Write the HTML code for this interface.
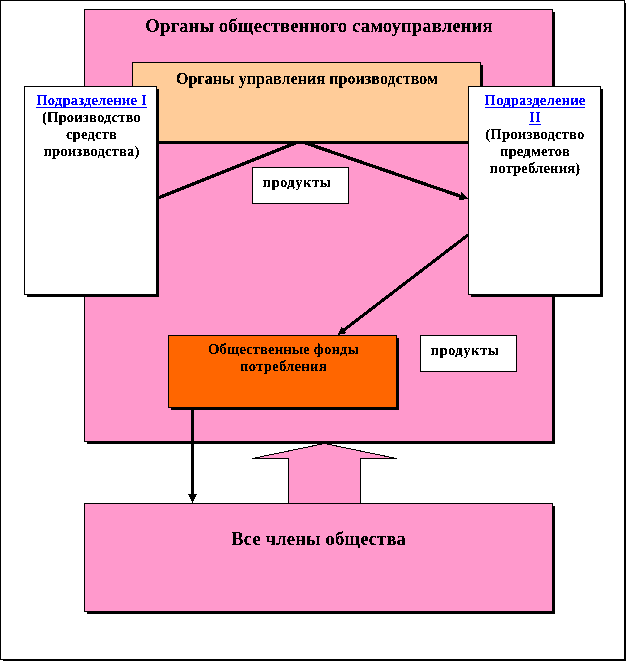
<!DOCTYPE html>
<html lang="ru">
<head>
<meta charset="utf-8">
<title>Схема</title>
<style>
html,body{margin:0;padding:0;background:#fff;}
body{width:626px;height:661px;position:relative;overflow:hidden;font-family:"Liberation Serif","Times New Roman",serif;font-weight:bold;color:#000;}
.b{position:absolute;box-sizing:border-box;border:1px solid #000;}
.s{position:absolute;background:#000;}
.t{position:absolute;white-space:nowrap;text-align:center;filter:url(#bin);}
.pink{background:#ff99cc;}
.peach{background:#ffcc99;}
.orange{background:#ff6600;}
.white{background:#fff;}
a{color:#0000ff;text-decoration:underline;text-decoration-thickness:1px;text-underline-offset:2px;text-decoration-skip-ink:none;letter-spacing:0.15px;}
svg{position:absolute;left:0;top:0;}
</style>
</head>
<body>
<svg width="0" height="0" style="position:absolute" aria-hidden="true">
  <defs>
    <filter id="bin" x="0" y="0" width="100%" height="100%" color-interpolation-filters="sRGB">
      <feComponentTransfer><feFuncA type="discrete" tableValues="0 0 0 0 0 0 0 0 0 1 1 1 1 1 1 1 1 1 1 1"/></feComponentTransfer>
    </filter>
  </defs>
</svg>
<!-- outer frame -->
<div class="s" style="left:3px;top:3px;width:623px;height:658px;"></div>
<div class="b white" style="left:0;top:0;width:625px;height:660px;"></div>

<!-- block arrow -->
<svg width="626" height="661" viewBox="0 0 626 661">
  <polygon points="324.5,443.5 396.5,458.5 360.5,458.5 360.5,503.5 288.5,503.5 288.5,458.5 252.5,458.5" fill="#ff99cc" stroke="#000" stroke-width="1" shape-rendering="crispEdges"/>
</svg>

<!-- main pink -->
<div class="s" style="left:87px;top:12px;width:468px;height:432px;"></div>
<div class="b pink" style="left:84px;top:9px;width:469px;height:433px;"></div>

<!-- bottom pink -->
<div class="s" style="left:87px;top:506px;width:468px;height:108px;"></div>
<div class="b pink" style="left:84px;top:503px;width:469px;height:109px;z-index:2"></div>

<!-- lines -->
<svg width="626" height="661" viewBox="0 0 626 661" style="z-index:2">
  <g stroke="#000" fill="none" shape-rendering="crispEdges">
    <line x1="300.7" y1="141" x2="156" y2="198.8" stroke-width="3.3"/>
    <line x1="299.7" y1="141.0" x2="461.2" y2="196.5" stroke-width="3.3"/>
    <line x1="468.0" y1="235.0" x2="343.4" y2="330.4" stroke-width="3.1"/>
    <line x1="192.5" y1="407.0" x2="192.5" y2="495.0" stroke-width="3"/>
  </g>
  <g fill="#000" stroke="none" shape-rendering="crispEdges">
    <polygon points="468.3,198.9 458.9,200.1 461.6,192.2"/>
    <polygon points="337.4,335.0 341.6,326.5 346.7,333.2"/>
    <polygon points="192.5,503.5 188.0,494.0 197.0,494.0"/>
  </g>
</svg>

<!-- peach -->
<div class="s" style="left:135px;top:65px;width:348px;height:79px;z-index:3"></div>
<div class="b peach" style="left:132px;top:62px;width:349px;height:80px;z-index:3"></div>


<!-- white side boxes -->
<div class="s" style="left:27px;top:89px;width:132px;height:208px;z-index:5"></div>
<div class="b white" style="left:24px;top:86px;width:133px;height:209px;z-index:5"></div>
<div class="s" style="left:471px;top:89px;width:132px;height:208px;z-index:5"></div>
<div class="b white" style="left:468px;top:86px;width:133px;height:209px;z-index:5"></div>

<!-- orange -->
<div class="s" style="left:171px;top:338px;width:228px;height:72px;z-index:5"></div>
<div class="b orange" style="left:168px;top:335px;width:229px;height:73px;z-index:5"></div>

<!-- product boxes -->
<div class="b white" style="left:252px;top:167px;width:97px;height:37px;z-index:5"></div>
<div class="b white" style="left:420px;top:335px;width:97px;height:37px;z-index:5"></div>

<!-- text -->
<div class="t" id="t1" style="z-index:6;left:83.5px;width:471px;top:15px;font-size:18.67px;line-height:21px;letter-spacing:0.12px;">Органы общественного самоуправления</div>
<div class="t" id="t2" style="z-index:6;left:131.5px;width:351px;top:70px;font-size:16px;line-height:18px;letter-spacing:0.07px;">Органы управления производством</div>
<div class="t" id="t3" style="z-index:6;left:24px;width:135px;top:92px;font-size:14.67px;line-height:17px;letter-spacing:0.15px;"><a>Подразделение I</a><br>(Производство<br>средств<br>производства)</div>
<div class="t" id="t4" style="z-index:6;left:467.5px;width:135px;top:92px;font-size:14.67px;line-height:17px;letter-spacing:0.15px;"><a>Подразделение<br>II</a><br>(Производство<br>предметов<br>потребления)</div>
<div class="t" id="t5" style="z-index:6;left:262.5px;top:174px;font-size:14.67px;line-height:17px;text-align:left;letter-spacing:0.45px;">продукты</div>
<div class="t" id="t6" style="z-index:6;left:430.5px;top:342px;font-size:14.67px;line-height:17px;text-align:left;letter-spacing:0.45px;">продукты</div>
<div class="t" id="t7" style="z-index:6;left:168px;width:231px;top:341px;font-size:14.67px;line-height:17px;letter-spacing:0.1px;">Общественные фонды<br><span style="letter-spacing:0.25px">потребления</span></div>
<div class="t" id="t8" style="z-index:6;left:83.2px;width:471px;top:528px;font-size:18.67px;line-height:21px;letter-spacing:0.1px;">Все члены общества</div>
</body>
</html>
